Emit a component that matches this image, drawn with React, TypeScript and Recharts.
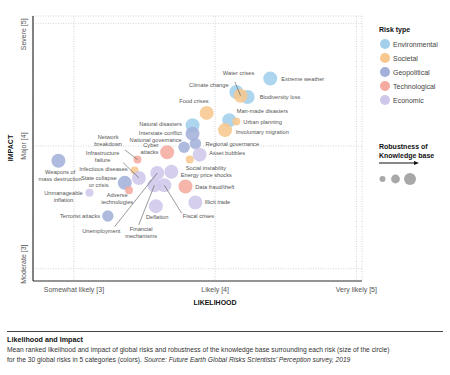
import { CartesianGrid, Scatter, ScatterChart, XAxis, YAxis, ZAxis } from 'recharts'

const riskTypes = ['Environmental', 'Societal', 'Geopolitical', 'Technological', 'Economic']
const typeColors = ['#a2d0ec', '#f7c78e', '#a3b1da', '#f5ab9f', '#cfc8eb']

const riskNames = [
  'Extreme weather', 'Water crises', 'Climate change', 'Biodiversity loss', 'Food crises',
  'Man-made disasters', 'Urban planning', 'Involuntary migration', 'Natural disasters', 'Interstate conflict',
  'Regional governance', 'National governance', 'Cyber attacks', 'Asset bubbles', 'Social instability',
  'Energy price shocks', 'Data fraud/theft', 'Network breakdown', 'Weapons of mass destruction', 'Infrastructure failure',
  'Infectious diseases', 'State collapse or crisis', 'Adverse technologies', 'Unmanageable inflation', 'Terrorist attacks',
  'Unemployment', 'Financial mechanisms', 'Fiscal crises', 'Deflation', 'Illicit trade',
]
// 0 env, 1 soc, 2 geo, 3 tech, 4 econ
const riskType = [0, 1, 0, 0, 1, 0, 1, 1, 0, 2, 2, 2, 3, 4, 1, 4, 3, 3, 2, 4, 1, 2, 3, 4, 2, 4, 4, 4, 4, 4]
const likelihood = [
  4.39, 4.18, 4.15, 4.23, 3.94, 4.1, 4.15, 4.07, 3.84, 3.84,
  3.86, 3.78, 3.66, 3.89, 3.82, 3.69, 3.79, 3.45, 2.89, 3.46,
  3.43, 3.36, 3.39, 3.11, 3.24, 3.59, 3.57, 3.64, 3.58, 3.86,
]
const impact = [
  4.55, 4.41, 4.44, 4.4, 4.27, 4.21, 4.2, 4.13, 4.17, 4.1,
  4.02, 3.99, 3.95, 3.93, 3.89, 3.79, 3.67, 3.89, 3.88, 3.74,
  3.8, 3.7, 3.64, 3.62, 3.43, 3.78, 3.68, 3.68, 3.51, 3.54,
]
// robustness of knowledge base: 1 low, 2 medium, 3 high
const robustness = [3, 3, 3, 3, 3, 3, 1, 3, 3, 3, 2, 2, 3, 3, 1, 3, 3, 1, 3, 3, 1, 3, 1, 1, 2, 3, 3, 3, 3, 3]

const xTicks = [3, 4, 5]
const xTickLabels = ['Somewhat likely [3]', 'Likely [4]', 'Very likely [5]']
const yTicks = [3, 4, 5]
const yTickLabels = ['Moderate [3]', 'Major [4]', 'Severe [5]']

const points = riskNames.map((name, i) => ({
  name,
  type: riskType[i],
  x: likelihood[i],
  y: impact[i],
  z: robustness[i],
}))

// label placement relative to bubble centre: dx, dy, anchor, optional leader start
type LabelPos = { dx: number; dy: number; a: 'start' | 'middle' | 'end'; lead?: [number, number] }
const labelLayout: Record<string, LabelPos> = {
  'Extreme weather': { dx: 11, dy: 0, a: 'start' },
  'Water crises': { dx: -2, dy: -22.5, a: 'middle', lead: [-5.7, -13.8] },
  'Climate change': { dx: -7.7, dy: -6.7, a: 'end' },
  'Biodiversity loss': { dx: 12, dy: 0, a: 'start' },
  'Food crises': { dx: 2, dy: -11.7, a: 'end' },
  'Man-made disasters': { dx: 7.4, dy: -9, a: 'start' },
  'Urban planning': { dx: 7, dy: 0, a: 'start' },
  'Involuntary migration': { dx: 11, dy: 1.7, a: 'start' },
  'Natural disasters': { dx: -10.7, dy: -0.7, a: 'end' },
  'Interstate conflict': { dx: -10.7, dy: -1, a: 'end' },
  'Regional governance': { dx: 10, dy: 0, a: 'start' },
  'National governance': { dx: -2.3, dy: -7.6, a: 'end' },
  'Cyber attacks': { dx: -8.7, dy: -6.7, a: 'end' },
  'Asset bubbles': { dx: 9.7, dy: -1.3, a: 'start' },
  'Social instability': { dx: -4, dy: 8, a: 'start' },
  'Energy price shocks': { dx: 9.3, dy: 2.7, a: 'start' },
  'Data fraud/theft': { dx: 9.7, dy: 0, a: 'start' },
  'Network breakdown': { dx: -29.4, dy: -22.4, a: 'middle', lead: [-12.7, -9.7] },
  'Weapons of mass destruction': { dx: 1.7, dy: 11.3, a: 'middle' },
  'Infrastructure failure': { dx: -36.3, dy: -24.5, a: 'middle', lead: [-15.7, -15.2] },
  'Infectious diseases': { dx: -7, dy: -1.3, a: 'end' },
  'State collapse or crisis': { dx: -26, dy: -5, a: 'middle' },
  'Adverse technologies': { dx: -11.8, dy: 5, a: 'middle' },
  'Unmanageable inflation': { dx: -26, dy: 0, a: 'middle' },
  'Terrorist attacks': { dx: -7.7, dy: 0, a: 'end' },
  'Unemployment': { dx: -56, dy: 58.4, a: 'middle', lead: [-42.7, 53.7] },
  'Financial mechanisms': { dx: -13.3, dy: 44, a: 'middle', lead: [-15.7, 39.5] },
  'Fiscal crises': { dx: 18.4, dy: 30.7, a: 'start', lead: [17.4, 28] },
  'Deflation': { dx: 1.3, dy: 10.7, a: 'middle' },
  'Illicit trade': { dx: 9.3, dy: 0, a: 'start' },
}
const labelLines: Record<string, string[]> = {
  'Cyber attacks': ['Cyber', 'attacks'],
  'Network breakdown': ['Network', 'breakdown'],
  'Weapons of mass destruction': ['Weapons of', 'mass destruction'],
  'Infrastructure failure': ['Infrastructure', 'failure'],
  'State collapse or crisis': ['State collapse', 'or crisis'],
  'Adverse technologies': ['Adverse', 'technologies'],
  'Unmanageable inflation': ['Unmanageable', 'inflation'],
  'Financial mechanisms': ['Financial', 'mechanisms'],
}

const font = '"Liberation Sans", Arial, Helvetica, sans-serif'

function RiskLabel(props: any) {
  const { cx, cy, payload } = props
  const l = labelLayout[payload.name]
  if (!l || cx == null) return <g />
  const lines = labelLines[payload.name] || [payload.name]
  return (
    <g>
      {l.lead && (
        <line x1={cx + l.lead[0]} y1={cy + l.lead[1]} x2={cx} y2={cy} stroke="#555" strokeWidth={0.6} />
      )}
      {lines.map((t, i) => (
        <text
          key={i}
          x={cx + l.dx}
          y={cy + l.dy + i * 7}
          textAnchor={l.a}
          dominantBaseline="central"
          fontSize={5.7}
          fill="#555"
          fontFamily={font}
        >
          {t}
        </text>
      ))}
    </g>
  )
}

function XTick(props: any) {
  const { x, payload } = props
  const i = xTicks.indexOf(payload.value)
  return (
    <text x={x} y={289} textAnchor="middle" dominantBaseline="central" fontSize={7} fill="#555" fontFamily={font}>
      {xTickLabels[i]}
    </text>
  )
}

function YTick(props: any) {
  const { y, payload } = props
  const i = yTicks.indexOf(payload.value)
  const v = payload.value
  const anchor = v === 5 ? 'end' : v === 3 ? 'start' : 'middle'
  const yy = v === 5 ? y - 5 : v === 3 ? y + 15 : y
  return (
    <text
      transform={`translate(23, ${yy}) rotate(-90)`}
      textAnchor={anchor}
      dominantBaseline="central"
      fontSize={7}
      fill="#555"
      fontFamily={font}
    >
      {yTickLabels[i]}
    </text>
  )
}

export default function App() {
  return (
    <div
      style={{
        position: 'absolute',
        left: 0,
        top: 0,
        width: 450,
        height: 375,
        background: '#fff',
        fontFamily: font,
        overflow: 'hidden',
      }}
    >
      <ScatterChart width={450} height={320} margin={{ top: 16, right: 88, bottom: 0, left: 0 }}>
        <CartesianGrid stroke="#c9c9c9" strokeDasharray="1 1.5" strokeWidth={0.8} />
        <XAxis
          type="number"
          dataKey="x"
          domain={[2.71, 5.04]}
          ticks={xTicks}
          height={39}
          axisLine={{ stroke: '#333', strokeWidth: 1.2 }}
          tickLine={false}
          tick={<XTick />}
          allowDataOverflow
        />
        <YAxis
          type="number"
          dataKey="y"
          domain={[2.9, 5.06]}
          ticks={yTicks}
          width={33}
          axisLine={{ stroke: '#333', strokeWidth: 1.2 }}
          tickLine={false}
          tick={<YTick />}
          allowDataOverflow
        />
        <ZAxis type="number" dataKey="z" domain={[1, 3]} range={[50, 154]} />
        {riskTypes.map((t, k) => (
          <Scatter
            key={t}
            name={t}
            data={points.filter((p) => p.type === k)}
            fill={typeColors[k]}
            fillOpacity={0.88}
            shape="circle"
            isAnimationActive={false}
          />
        ))}
        <Scatter name="labels" data={points} shape={RiskLabel} isAnimationActive={false} legendType="none" />
      </ScatterChart>

      <svg width={450} height={375} style={{ position: 'absolute', left: 0, top: 0, pointerEvents: 'none' }}>
        <text transform="translate(10, 148) rotate(-90)" textAnchor="middle" dominantBaseline="central" fontSize={7} fontWeight="bold" fill="#111" fontFamily={font}>
          IMPACT
        </text>
        <text x={215} y={302} textAnchor="middle" dominantBaseline="central" fontSize={7} fontWeight="bold" fill="#111" fontFamily={font}>
          LIKELIHOOD
        </text>

        <text x={379} y={29} dominantBaseline="central" fontSize={7} fontWeight="bold" fill="#111" fontFamily={font}>
          Risk type
        </text>
        {riskTypes.map((t, k) => (
          <g key={t}>
            <circle cx={385} cy={44 + k * 14} r={5} fill={typeColors[k]} />
            <text x={393} y={44 + k * 14} dominantBaseline="central" fontSize={7} fill="#444" fontFamily={font}>
              {t}
            </text>
          </g>
        ))}

        <text x={379} y={146} dominantBaseline="central" fontSize={7} fontWeight="bold" fill="#111" fontFamily={font}>
          Robustness of
        </text>
        <text x={379} y={155} dominantBaseline="central" fontSize={7} fontWeight="bold" fill="#111" fontFamily={font}>
          Knowledge base
        </text>
        <line x1={379} y1={163} x2={415} y2={163} stroke="#111" strokeWidth={1} />
        <polygon points="414,161 419,163 414,165" fill="#111" />
        <circle cx={382.5} cy={179} r={3} fill="#a8a8a8" />
        <circle cx={395.5} cy={179} r={4.4} fill="#a8a8a8" />
        <circle cx={410} cy={179} r={6} fill="#a8a8a8" />
      </svg>

      <div style={{ position: 'absolute', left: 7, top: 331, width: 436, borderTop: '1px solid #444' }} />
      <div style={{ position: 'absolute', left: 7, top: 336, fontSize: 7.2, lineHeight: '8px', fontWeight: 'bold', color: '#111', whiteSpace: 'nowrap' }}>
        Likelihood and Impact
      </div>
      <div style={{ position: 'absolute', left: 7, top: 345.4, fontSize: 6.7, lineHeight: '9.3px', color: '#333', whiteSpace: 'nowrap' }}>
        Mean ranked likelihood and impact of global risks and robustness of the knowledge base surrounding each risk (size of the circle)
        <br />
        for the 30 global risks in 5 categories (colors). <i>Source: Future Earth Global Risks Scientists’ Perception survey, 2019</i>
      </div>
    </div>
  )
}
